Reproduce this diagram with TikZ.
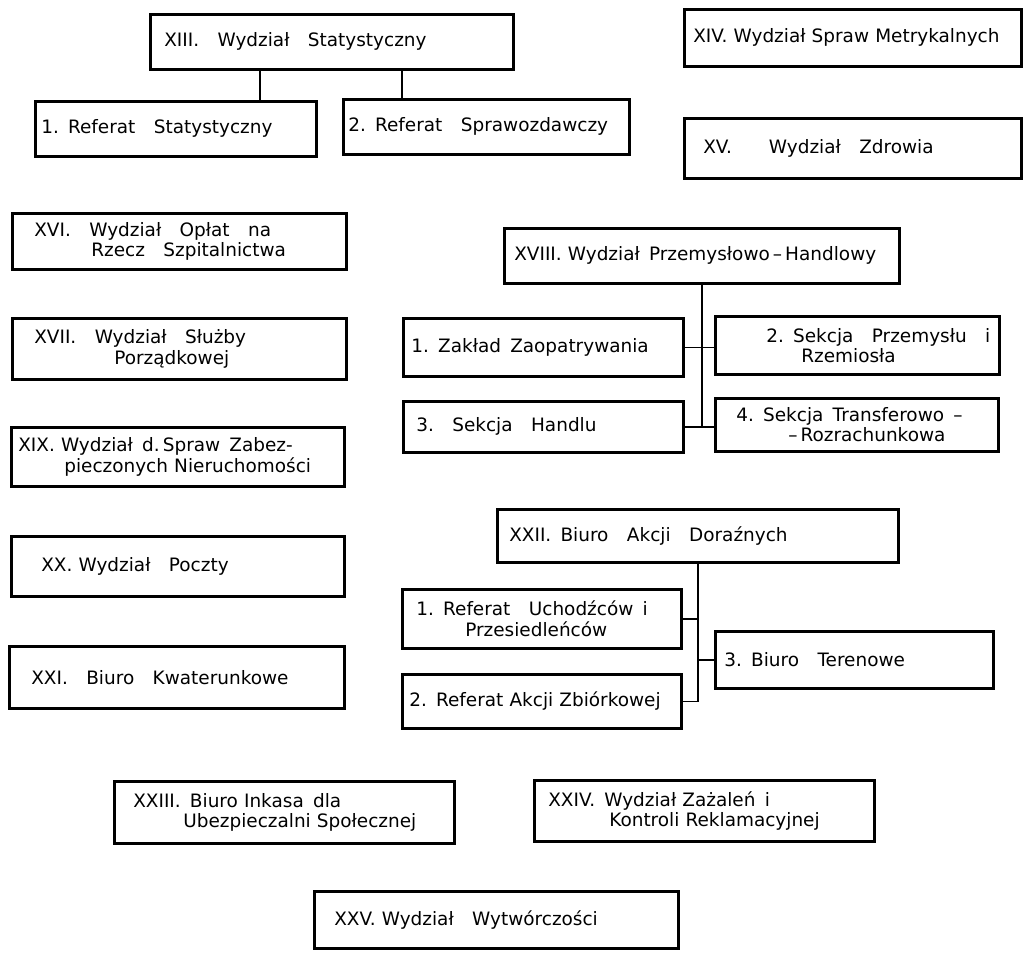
\documentclass[tikz,border=0pt]{standalone}
\usepackage{fontspec}
\setmainfont{DejaVu Sans}
\setlength\parindent{0pt}

\newlength\pxunit
\setlength\pxunit{0.02cm}
\newcommand\ind[1]{\hspace*{#1\pxunit}}

\begin{document}
\begin{tikzpicture}[x=0.02cm, y=-0.02cm,
    dept/.style 2 args={draw, line width=1.5pt, anchor=north west, inner xsep=0pt, inner ysep=0pt, align=left, text width=#1\pxunit, minimum height=#2\pxunit, font=\fontsize{10.5}{11.5}\selectfont},
    link/.style={line width=0.9pt}
    ]
    \useasboundingbox (0,0) rectangle (1025,956);

    % Statistics department and its desks
    \node (xiii) [dept={363}{55}] at (149,13) {\ind{14}XIII.\quad Wydział\quad Statystyczny};
    \node (ref1) [dept={281}{55}] at (34,100) {\ind{6}1. Referat\quad Statystyczny};
    \node (ref2) [dept={286}{55}] at (342,98) {\ind{5}2. Referat\quad Sprawozdawczy};

    % Right column, top
    \node (xiv) [dept={337}{57}] at (683,8) {\ind{9}XIV. Wydział Spraw Metrykalnych};
    \node (xv) [dept={337}{60}] at (683,117) {\ind{19}XV.\qquad Wydział\quad Zdrowia};

    % Left column
    \node (xvi) [dept={334}{56}] at (11,212) {\ind{22}XVI.\quad Wydział\quad Opłat\quad na\\\ind{79}Rzecz\quad Szpitalnictwa};
    \node (xvii) [dept={334}{61}] at (11,317) {\ind{22}XVII.\quad Wydział\quad Służby\\\ind{102}Porządkowej};
    \node (xix) [dept={333}{59}] at (10,426) {\ind{7}XIX. Wydział\enspace d.\,Spraw\enspace Zabez-\\\ind{53}pieczonych Nieruchomości};
    \node (xx) [dept={333}{60}] at (10,535) {\ind{30}XX. Wydział\quad Poczty};
    \node (xxi) [dept={335}{62}] at (8,645) {\ind{22}XXI.\quad Biuro\quad Kwaterunkowe};

    % Industry and trade
    \node (xviii) [dept={395}{55}] at (503,227) {\ind{10}XVIII. Wydział\enspace Przemysłowo\,–\,Handlowy};
    \node (zaklad) [dept={280}{58}] at (402,317) {\ind{8}1. Zakład\enspace Zaopatrywania};
    \node (przemysl) [dept={284}{58}] at (714,315) {\ind{51}2. Sekcja\quad Przemysłu\quad i\\\ind{86}Rzemiosła};
    \node (handel) [dept={280}{51}] at (402,400) {\ind{13}3.\quad Sekcja\quad Handlu};
    \node (transfer) [dept={283}{53}] at (714,397) {\ind{21}4. Sekcja\enspace Transferowo\enspace –\\\ind{73}–\,Rozrachunkowa};

    % Emergency actions
    \node (xxii) [dept={401}{53}] at (496,508) {\ind{12}XXII.\enspace Biuro\quad Akcji\quad Doraźnych};
    \node (uchodz) [dept={279}{59}] at (401,588) {\ind{14}1. Referat\quad Uchodźców\enspace i\\\ind{63}Przesiedleńców};
    \node (zbiorka) [dept={279}{54}] at (401,673) {\ind{7}2. Referat Akcji Zbiórkowej};
    \node (teren) [dept={278}{57}] at (714,630) {\ind{9}3.\enspace Biuro\quad Terenowe};

    % Bottom rows
    \node (xxiii) [dept={340}{62}] at (113,780) {\ind{19}XXIII.\enspace Biuro Inkasa\enspace dla\\\ind{69}Ubezpieczalni Społecznej};
    \node (xxiv) [dept={340}{61}] at (533,779) {\ind{14}XXIV.\enspace Wydział Zażaleń\enspace i\\\ind{75}Kontroli Reklamacyjnej};
    \node (xxv) [dept={364}{57}] at (313,890) {\ind{20}XXV. Wydział\quad Wytwórczości};

    % Links - statistics
    \coordinate (stemA) at (260,0);
    \coordinate (stemB) at (402,0);
    \draw [link] (stemA |- xiii.south) -- (stemA |- ref1.north);
    \draw [link] (stemB |- xiii.south) -- (stemB |- ref2.north);

    % Links - industry and trade
    \draw [link] (xviii.south) -- (xviii.south |- handel.east);
    \draw [link] (zaklad.east) -- (zaklad.east -| przemysl.west);
    \draw [link] (handel.east) -- (handel.east -| transfer.west);

    % Links - emergency actions
    \draw [link] (xxii.south) -- (xxii.south |- zbiorka.east) -- (zbiorka.east);
    \draw [link] (uchodz.east) -- (uchodz.east -| xxii.south);
    \draw [link] (xxii.south |- teren.west) -- (teren.west);
\end{tikzpicture}
\end{document}
